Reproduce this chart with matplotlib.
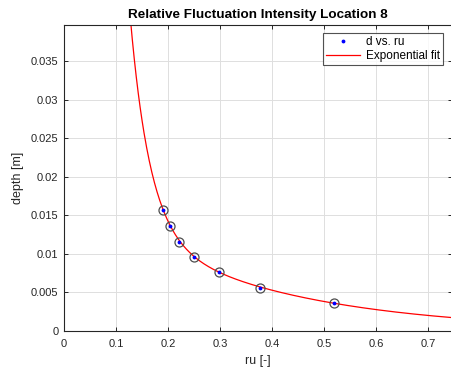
import numpy as np
import matplotlib
matplotlib.use("Agg")
import matplotlib.pyplot as plt

# data
ru = [0.1908, 0.2042, 0.2202, 0.249, 0.2989, 0.377, 0.519]
depth = [0.0157, 0.0136, 0.0116, 0.0096, 0.0076, 0.0056, 0.0036]
# two-term exponential fit coefficients: a*exp(b*x) + c*exp(d*x)
fit_a, fit_b, fit_c, fit_d = 0.7716, -26.0, 0.01895, -3.2
xticks = [0, 0.1, 0.2, 0.3, 0.4, 0.5, 0.6, 0.7]
yticks = [0, 0.005, 0.01, 0.015, 0.02, 0.025, 0.03, 0.035]

plt.rcParams['font.family'] = ['Liberation Sans', 'DejaVu Sans']
fig = plt.figure(figsize=(4.52, 3.74), dpi=100)
ax = fig.add_axes([64/452, 1-331/374, 1-64/452, (331-24.5)/374])

xx = np.linspace(0.05, 0.8, 600)
yy = fit_a*np.exp(fit_b*xx) + fit_c*np.exp(fit_d*xx)

ax.plot(ru, depth, 'o', mfc='none', mec='0.3', ms=6.5, mew=0.9, zorder=3)
ax.plot(ru, depth, '.', color='blue', ms=3.5, label='d vs. ru', zorder=4)
ax.plot(xx, yy, '-', color='red', lw=0.9, label='Exponential fit', zorder=2)

ax.set_xlim(0, 0.746)
ax.set_ylim(0, 0.03977)
ax.set_xticks(xticks)
ax.set_yticks(yticks)
ax.set_xticklabels(['%g' % v for v in xticks])
ax.set_yticklabels(['%g' % v for v in yticks])
ax.grid(True, color='0.87', lw=0.7)
ax.set_axisbelow(True)
ax.tick_params(direction='in', length=3, width=0.7, colors='0.15', labelsize=8,
               top=True, right=True)
ax.tick_params(axis='x', pad=6)
ax.tick_params(axis='y', pad=4)
for s in ax.spines.values():
    s.set_color('0.15')
    s.set_linewidth(0.8)

ax.set_xlabel('ru [-]', fontsize=9, color='0.15', labelpad=4)
ax.set_ylabel('depth [m]', fontsize=9, color='0.15', labelpad=5)
ax.set_title('Relative Fluctuation Intensity Location 8', fontsize=9.7,
             fontweight='bold', pad=5)

leg = ax.legend(loc='upper right', bbox_to_anchor=((443-64)/(452-64), 1 - (33-24.5)/306.5),
                bbox_transform=ax.transAxes, fontsize=8.5, frameon=True, fancybox=False,
                edgecolor='0.15', handlelength=2.9, borderpad=0.25, labelspacing=0.15,
                handletextpad=0.5, borderaxespad=0)
leg.get_frame().set_linewidth(0.8)

fig.savefig('out.png', dpi=100)
